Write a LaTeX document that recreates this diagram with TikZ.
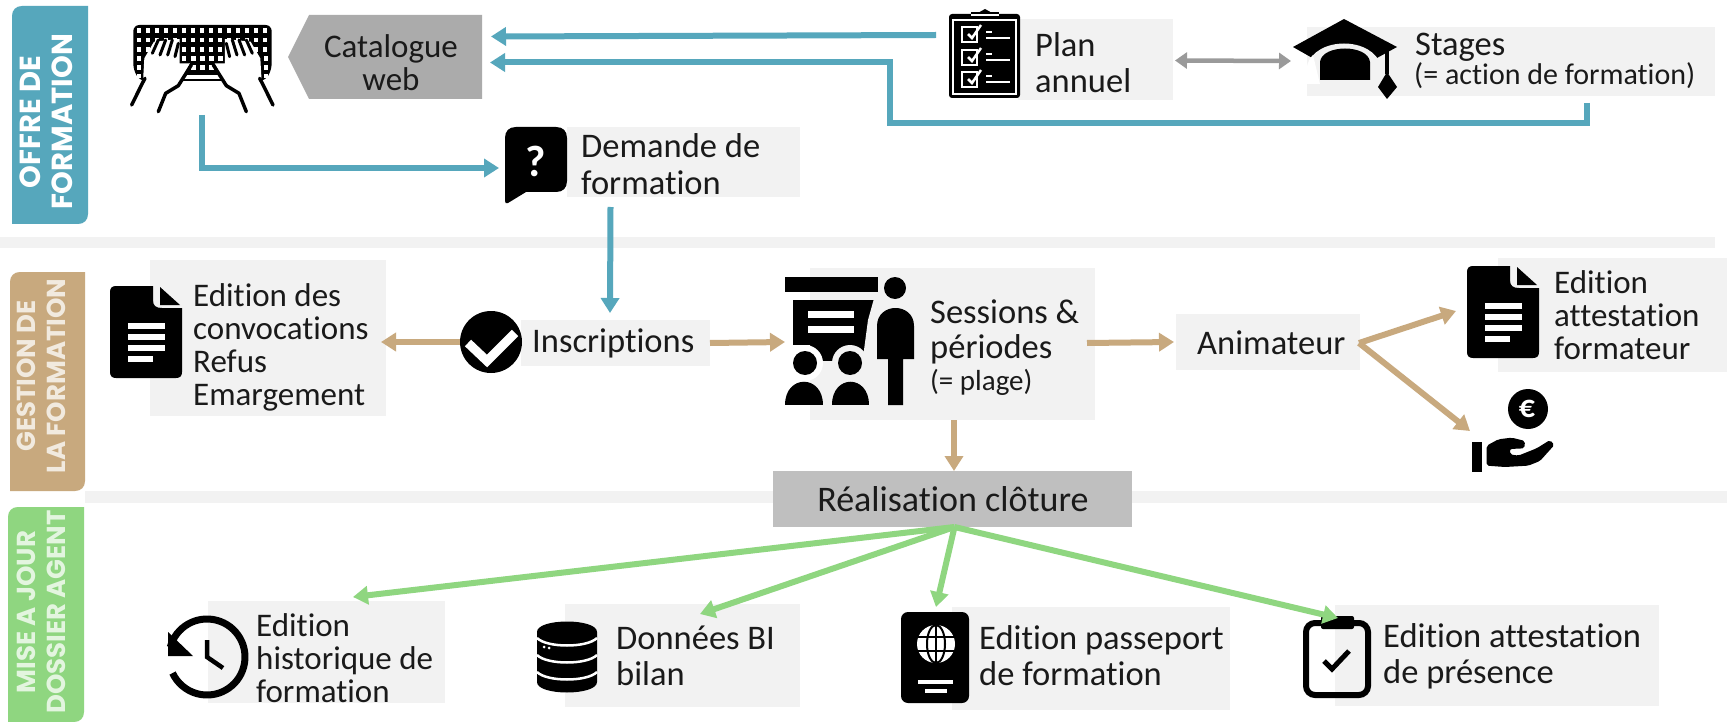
\documentclass[tikz,border=0pt]{standalone}
\usepackage{fontspec}
\setmainfont{Carlito}[Ligatures=NoCommon]
\newfontfamily\barfont{Poppins}
\usetikzlibrary{arrows.meta}
\definecolor{cblue}{HTML}{56A7BC}
\definecolor{ctan}{HTML}{C8A97E}
\definecolor{cgreen}{HTML}{8FD680}
\definecolor{cbox}{HTML}{F2F2F2}
\definecolor{ccat}{HTML}{ABABAB}
\definecolor{creal}{HTML}{BFBFBF}
\definecolor{cdbl}{HTML}{9A9A9A}
\definecolor{cink}{HTML}{1A1A1A}
\tikzset{
  lab/.style={font=\fontsize{34.5}{#1}\selectfont,align=left,inner sep=0pt,anchor=west,text=cink},
  lab/.default=33,
  labnarrow/.style={font=\fontsize{33}{33}\selectfont,align=left,inner sep=0pt,anchor=west,text=cink},
  smalllab/.style={font=\fontsize{#1}{32}\selectfont,align=left,inner sep=0pt,anchor=west,text=cink},
  smalllab/.default=30,
  bartext/.style={rotate=90,align=center,inner sep=0pt,text=#1},
  blueline/.style={line width=6pt,draw=cblue,-{Triangle[length=15pt,width=18pt]}},
  tanline/.style={line width=6pt,draw=ctan,-{Triangle[length=15pt,width=18pt]}},
  greenline/.style={line width=6pt,draw=cgreen,-{Triangle[length=15pt,width=18pt]}},
  dblline/.style={line width=4.5pt,draw=cdbl,{Triangle[length=12pt,width=16pt]}-{Triangle[length=12pt,width=16pt]}},
  kline/.style={draw=black,line cap=round,line join=round},
}
\newcommand{\boxnode}[6]{\node[fill=#6,draw=none,inner sep=0pt,outer sep=0pt,
  minimum width={(#4-#2)*1pt},minimum height={(#5-#3)*1pt}] (#1) at ({(#2+#4)/2},{(#3+#5)/2}) {};}
\newcommand{\barshape}[5]{\fill[#5] (#3,#2) -- ({#1+10},#2) .. controls ({#1+4},#2) and (#1,{#2+4}) .. (#1,{#2+10}) -- (#1,#4) -- ({#3-10},#4) .. controls ({#3-4},#4) and (#3,{#4-4}) .. (#3,{#4-10}) -- cycle;}
% document icon: left x, top y
\newcommand{\docicon}[2]{\begin{scope}[shift={(#1,#2)}]
  \fill[black] (6,0) -- (43,0) -- (43,14) .. controls (43,20) and (46,22) .. (52,22) -- (72,22) -- (72,86) .. controls (72,90) and (70,92) .. (66,92) -- (6,92) .. controls (2,92) and (0,90) .. (0,86) -- (0,6) .. controls (0,2) and (2,0) .. (6,0) -- cycle;
  \fill[black] (50,1) -- (70,19) -- (50,19) -- cycle;
  \foreach \yy/\xx in {40/55,51/55,62/55,73/43} {\draw[white,line width=5.5pt] (18,\yy) -- (\xx,\yy);}
\end{scope}}
\begin{document}
\begin{tikzpicture}[x=1pt,y=-1pt]
\useasboundingbox (0,0) rectangle (1727,722);
\fill[white] (0,0) rectangle (1727,722);
% bands
\fill[cbox] (0,237) rectangle (1715,248);
\fill[cbox] (85,491) rectangle (1727,503);
% side bars
\barshape{12}{6}{88}{224}{cblue}
\barshape{10}{272}{85}{491}{ctan}
\barshape{8}{507}{84}{722}{cgreen}
\node[bartext=white,font=\barfont\bfseries\fontsize{29}{32}\selectfont] (offre) at (46,122) {OFFRE DE\\FORMATION};
\node[bartext=ctan!25,font=\barfont\bfseries\fontsize{26}{30}\selectfont] (gestion) at (41,376) {GESTION DE\\LA FORMATION};
\node[bartext=cgreen!25,font=\barfont\bfseries\fontsize{26}{30}\selectfont] (miseajour) at (41,612) {MISE A JOUR\\DOSSIER AGENT};
% boxes
\boxnode{demande}{567}{127}{800}{197}{cbox}
\boxnode{plan}{1018}{19}{1173}{100}{cbox}
\boxnode{stages}{1307}{27}{1715}{96}{cbox}
\boxnode{convoc}{150}{260}{386}{416}{cbox}
\boxnode{inscr}{521}{320}{710}{366}{cbox}
\boxnode{sessions}{810}{268}{1095}{420}{cbox}
\boxnode{anim}{1176}{314}{1360}{370}{cbox}
\boxnode{attform}{1498}{258}{1727}{372}{cbox}
\boxnode{histo}{208}{601}{445}{703}{cbox}
\boxnode{donnees}{565}{604}{800}{707}{cbox}
\boxnode{passe}{952}{607}{1230}{710}{cbox}
\boxnode{attpres}{1335}{605}{1659}{706}{cbox}
\boxnode{real}{773}{471}{1132}{527}{creal}
% catalogue
\fill[ccat] (309,15) -- (482,15) -- (482,99) -- (309,99) -- (288,57) -- cycle;
\boxnode{cat}{288}{15}{482}{99}{none}
% anchors for icons
\boxnode{kbd}{132}{25}{272}{113}{none}
\boxnode{bubble}{505}{127}{567}{203}{none}
\boxnode{planicon}{949}{9}{1020}{98}{none}
\boxnode{cap}{1293}{19}{1397}{99}{none}
\boxnode{convicon}{110}{286}{182}{378}{none}
\boxnode{check}{460}{311}{522}{373}{none}
\boxnode{sessicon}{785}{276}{914}{406}{none}
\boxnode{attdoc}{1467}{264}{1539}{358}{none}
\boxnode{pay}{1472}{389}{1553}{473}{none}
\boxnode{clock}{168}{618}{245}{696}{none}
\boxnode{db}{537}{621}{597}{693}{none}
\boxnode{pass}{901}{612}{969}{703}{none}
\boxnode{clip}{1303}{616}{1371}{698}{none}
%
% keyboard icon
\begin{scope}[shift={(125,15)},x=0.3333pt,y=-0.3333pt]
  \fill[black,rounded corners=6pt] (25,30) -- (440,30) -- (440,165) -- (420,198) -- (45,198) -- (25,165) -- cycle;
  \foreach \cx in {42,69,...,423} \foreach \cy in {47,75,103} {\fill[white] ({\cx-7},{\cy-7}) rectangle ({\cx+7},{\cy+7});}
  \foreach \cx in {42,69,396,423} \foreach \cy in {130,157,183} {\fill[white] ({\cx-7},{\cy-7}) rectangle ({\cx+7},{\cy+7});}
  \foreach \cx in {177,205,232,259,287} \foreach \cy in {130} {\fill[white] ({\cx-7},{\cy-7}) rectangle ({\cx+7},{\cy+7});}
  \foreach \cx in {205,232,259} {\fill[white] ({\cx-7},{150}) rectangle ({\cx+7},{164});}
  \fill[white] (0,199) rectangle (465,300);
  \fill[white] (178,180) rectangle (288,193);
  \foreach \mir in {1,-1} {
   \begin{scope}[shift={(232,0)},xscale=\mir]
    \fill[white] (-197,300) -- (-178,200) -- (-174,130) -- (-145,80) -- (-68,72) -- (-68,145) -- (-37,145) -- (-70,205) -- (-110,235) -- (-132,300) -- cycle;
    \draw[kline,line width=3.5pt] (-212,270) -- (-180,205) -- (-172,190);
    \draw[kline,line width=3.5pt] (-132,290) -- (-110,235) -- (-72,212) -- (-33,150);
    \draw[kline,line width=3pt] (-150,115) -- (-132,75);
    \draw[kline,line width=3pt] (-127,120) -- (-110,75);
    \draw[kline,line width=3pt] (-104,120) -- (-90,75);
    \draw[kline,line width=3pt] (-82,125) -- (-72,85);
   \end{scope}
  }
\end{scope}
% speech bubble
\fill[black] (516,127) -- (556,127) .. controls (563,127) and (567,131) .. (567,138) -- (567,181) .. controls (567,188) and (563,192) .. (556,192) -- (526,192) -- (508,203) .. controls (506,204) and (505,203) .. (505,201) -- (505,138) .. controls (505,131) and (509,127) .. (516,127) -- cycle;
\node[text=white,inner sep=0pt,font=\fontsize{44}{44}\selectfont\bfseries] (quest) at (536,161) {?};
% plan icon
\fill[black,rounded corners=3pt] (949,14) rectangle (1020,98);
\draw[white,line width=2pt] (953,20) rectangle (1016,94);
\fill[black] (971,17) rectangle (999,12);
\fill[black] (976,14) -- (985,9) -- (994,14) -- cycle;
\draw[white,line width=2pt] (971,15) -- (999,15);
\foreach \cy/\ly in {27/38,50/60,72/82} {
  \draw[white,line width=2.5pt] (962,\cy) rectangle (977,{\cy+15});
  \draw[white,line width=2.5pt] (968,{\cy+7}) -- (972,{\cy+11}) -- (981,{\cy-2});
  \draw[white,line width=2pt] (986,\ly) -- (1010,\ly);
  \draw[white,line width=2pt] (986,{\ly-6}) -- (992,{\ly-6});
}
% graduation cap
\fill[black] (1344,19) -- (1397,47) -- (1344,76) -- (1293,47) -- cycle;
\fill[cbox] (1307,66) .. controls (1315,36) and (1373,36) .. (1381,66) -- (1381,84) -- (1307,84) -- cycle;
\fill[white] (1307,66) .. controls (1308,62) and (1310,58) .. (1313,55) -- (1320,84) -- (1307,84) -- cycle;
\fill[black] (1320,80) -- (1320,62) .. controls (1322,44) and (1368,44) .. (1370,62) -- (1370,80) -- cycle;
\fill[black] (1385,47) rectangle (1389,74);
\fill[black] (1387,72) -- (1397,87) -- (1387,99) -- (1378,87) -- cycle;
% document icons
\docicon{110}{286}
\docicon{1467}{266}
% check circle
\fill[black] (491,342) circle[radius=31];
\draw[white,line width=9pt,line join=miter] (468,343) -- (487,361) -- (515,333);
% sessions icon
\fill[black] (785,277) rectangle (878,292);
\fill[black] (793,300) rectangle (875,361);
\fill[white] (808,311) rectangle (854,318);
\fill[white] (808,326) rectangle (854,333);
\fill[white] (805,363) circle[radius=18];
\fill[cbox] (850,363) circle[radius=18];
\fill[white] (810,345) -- (810,381) -- (785,381) -- (785,345) -- (790,345) .. controls (796,345) and (804,345) .. (810,345) -- cycle;
\fill[cbox] (875,295) -- (880,295) -- (880,365) -- (862,365) -- (868,320) -- cycle;
\fill[black] (805,363) circle[radius=12];
\fill[black] (850,363) circle[radius=12];
\fill[black] (785,405) .. controls (785,374) and (823,374) .. (823,405) -- cycle;
\fill[black] (832,405) .. controls (832,374) and (869,374) .. (869,405) -- cycle;
\fill[black] (895,288) circle[radius=11];
\fill[black] (877,359) -- (877,326) .. controls (877,302) and (914,302) .. (914,326) -- (914,359) -- (903,359) -- (903,405) -- (888,405) -- (888,359) -- cycle;
% payment icon
\fill[black] (1528,409) circle[radius=20];
\node[text=white,inner sep=0pt,font=\fontsize{32}{32}\selectfont\bfseries] (euro) at (1527,409) {€};
\begin{scope}[shift={(1465,385)},x=0.3333pt,y=-0.3333pt]
  \fill[black] (22,170) rectangle (52,262);
  \fill[black,rounded corners=2pt] (65,182) -- (100,163) -- (140,158) -- (180,168) -- (178,190) -- (135,192) -- (135,208) -- (160,212) -- (215,190) -- (255,165) -- (268,180) -- (225,228) -- (190,242) -- (120,246) -- (65,242) -- cycle;
\end{scope}
% clock
\draw[black,line width=7pt] (207,657) ++(-165:38) arc[start angle=-165,end angle=155,radius=38];
\fill[black] (168,632) -- (168,656) -- (193,656) -- cycle;
\draw[black,line width=4.5pt] (207,640) -- (207,657) -- (223,668);
% database
\fill[black] (537,632) .. controls (537,618) and (597,618) .. (597,632) -- (597,682) .. controls (597,696) and (537,696) .. (537,682) -- cycle;
\draw[white,line width=2.5pt] (537,638) .. controls (547,648) and (587,648) .. (597,638);
\draw[white,line width=2.5pt] (537,655) .. controls (547,665) and (587,665) .. (597,655);
\draw[white,line width=2.5pt] (537,672) .. controls (547,682) and (587,682) .. (597,672);
\fill[white] (544,647) circle[radius=1.5];
\fill[white] (549,648) circle[radius=1.5];
% passport
\fill[black,rounded corners=7pt] (901,612) rectangle (969,703);
\fill[white] (936,644) circle[radius=19];
\draw[black,line width=2pt] (936,644) ellipse[x radius=9,y radius=19];
\draw[black,line width=2pt] (917,637) -- (955,637);
\draw[black,line width=2pt] (917,651) -- (955,651);
\draw[black,line width=2pt] (936,625) -- (936,663);
\draw[white,line width=3.5pt] (918,682) -- (953,682);
\draw[white,line width=3.5pt] (925,691) -- (947,691);
% clipboard
\draw[black,line width=6pt,rounded corners=9pt] (1306,623) rectangle (1368,695);
\fill[black,rounded corners=2pt] (1321,616) rectangle (1354,629);
\draw[black,line width=5pt] (1324,661) -- (1332,669) -- (1349,651);
%
% texts
\node[labnarrow,align=center,anchor=center] (cattxt) at (391,63) {Catalogue\\web};
\node[lab=37] (demtxt) at (581,164) {Demande de\\formation};
\node[lab=36] (plantxt) at (1035,63) {Plan\\annuel};
\node[lab] (stagestxt) at (1415,47) {Stages};
\node[smalllab] (stagessub) at (1414,76) {(= action de formation)};
\node[labnarrow] (convtxt) at (193,347) {Edition des\\convocations\\Refus\\Emargement};
\node[lab] (inscrtxt) at (532,343) {Inscriptions};
\node[lab=35] (sesstxt) at (930,332) {Sessions \&\\périodes};
\node[smalllab=29] (sesssub) at (930,382) {(= plage)};
\node[lab] (animtxt) at (1197,343) {Animateur};
\node[labnarrow] (attftxt) at (1554,315) {Edition\\attestation\\formateur};
\node[labnarrow] (histotxt) at (256,658) {Edition\\historique de\\formation};
\node[lab=36] (donntxt) at (616,656) {Données BI\\bilan};
\node[lab=36] (passtxt) at (979,656) {Edition passeport\\de formation};
\node[lab=36] (attptxt) at (1383,656) {Edition attestation\\de présence};
\node[inner sep=0pt,text=cink,font=\fontsize{36}{36}\selectfont] (realtxt) at (953,499) {Réalisation clôture};
%
% connectors
\coordinate (elbowA) at (890,123);
\coordinate (elbowB) at (890,62.5);
\draw[blueline] ([xshift=-13pt,yshift=18.5pt]planicon.west) -- ([xshift=9pt,yshift=20.5pt]cat.east);
\draw[blueline] ([xshift=76pt,yshift=-7pt]stages.south) |- (elbowA) -- (elbowB) -- ([xshift=8pt,yshift=-5.5pt]cat.east);
\draw[dblline] ([xshift=2pt,yshift=-1pt]plan.east) -- ([xshift=-2pt,yshift=-2pt]cap.west);
\draw[blueline] ([xshift=0pt,yshift=-2pt]kbd.south) |- ([xshift=-6pt,yshift=-3pt]bubble.west);
\draw[blueline] ([xshift=-73pt,yshift=-10pt]demande.south) -- ([xshift=-5.5pt,yshift=7pt]inscr.north);
\draw[tanline] (check.west) -- ([xshift=-5pt,yshift=-4pt]convoc.east);
\draw[tanline] (inscr.east) -- ([yshift=-1pt]sessicon.west);
\draw[tanline] ([xshift=-8pt,yshift=1pt]sessions.east) -- ([xshift=-2pt]anim.west);
\draw[tanline] ([xshift=-1pt,yshift=-1pt]anim.east) -- ([xshift=-11pt]attdoc.west);
\draw[tanline] ([xshift=-1pt,yshift=-1pt]anim.east) -- ([xshift=-2pt]pay.west);
\draw[tanline] ([xshift=1.5pt]sessions.south) -- ([xshift=1.5pt]real.north);
\draw[greenline] ([xshift=2pt]real.south) -- ([xshift=145pt,yshift=4pt]histo.north west);
\draw[greenline] ([xshift=2pt]real.south) -- ([xshift=135pt,yshift=-10pt]donnees.north west);
\draw[greenline] ([xshift=2pt]real.south) -- ([xshift=1pt,yshift=5pt]pass.north);
\draw[greenline] ([xshift=2pt]real.south) -- ([xshift=1pt,yshift=-2pt]clip.north);
\end{tikzpicture}
\end{document}
